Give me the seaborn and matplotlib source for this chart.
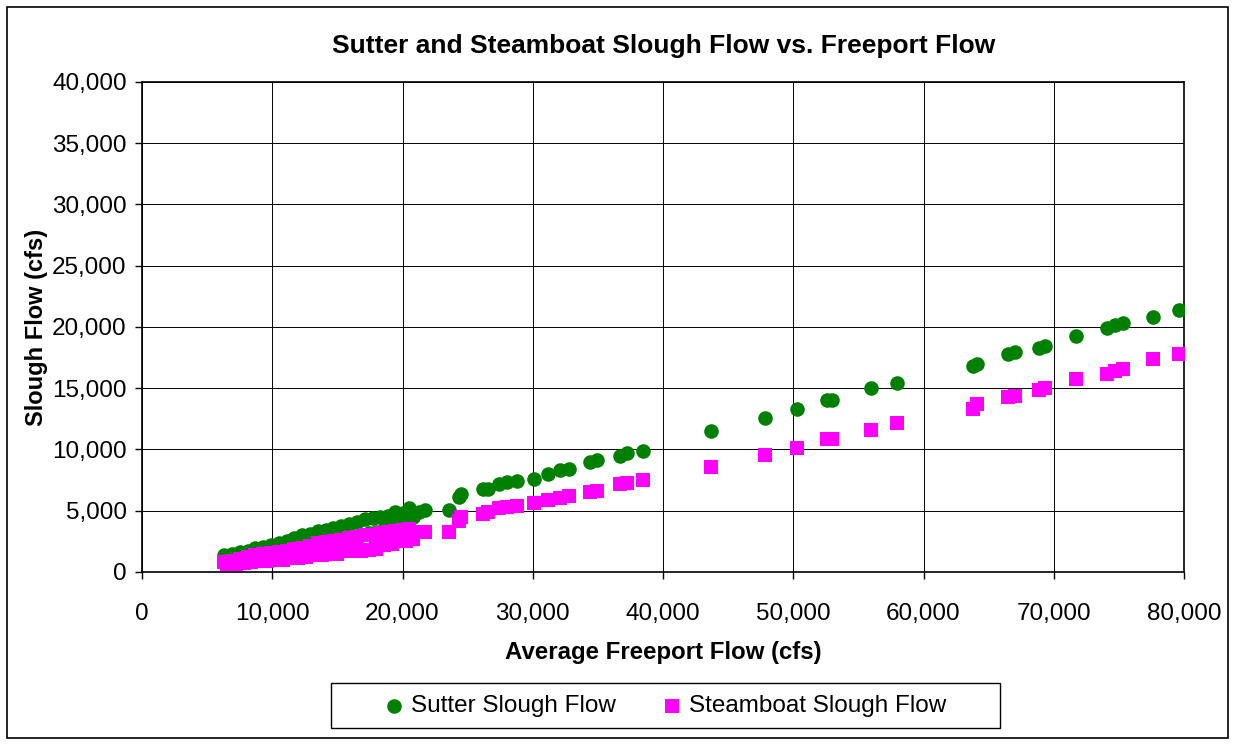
import numpy as np
import pandas as pd
import seaborn as sns
import matplotlib.pyplot as plt
from matplotlib.ticker import FuncFormatter, MultipleLocator

# Average Freeport flow (cfs)
freeport = [6300, 6500, 6900, 7200, 7500, 7800, 8100, 8400, 8700, 9000,
            9300, 9600, 9900, 10200, 10500, 10800, 11100, 11400, 11700, 12000,
            12300, 12600, 12900, 13200, 13500, 13800, 14100, 14400, 14700, 15000,
            15300, 15600, 15900, 16200, 16500, 16800, 17100, 17400, 17700, 18000,
            18300, 18600, 18900, 19200, 19400, 19700, 20000, 20300, 20500, 20800,
            21300, 21700, 23600, 24300, 24500, 26200, 26600, 27400, 28000, 28800,
            30100, 31200, 32100, 32800, 34400, 34900, 36700, 37200, 38500, 43700,
            47800, 50300, 52600, 53000, 56000, 58000, 63800, 64100, 66500, 67000,
            68900, 69300, 71700, 74100, 74700, 75300, 77600, 79600]

# Sutter Slough flow (cfs)
sutter = [1350, 1100, 1450, 1150, 1650, 1250, 1750, 1400, 1950, 1500,
          2050, 1600, 2200, 1700, 2350, 1750, 2550, 1900, 2750, 2000,
          3000, 2100, 3100, 2250, 3350, 2400, 3450, 2500, 3600, 2600,
          3750, 2750, 3900, 2900, 4050, 3000, 4300, 3200, 4400, 3300,
          4500, 3500, 4600, 3700, 4900, 3900, 4800, 4100, 5200, 4500,
          4900, 5050, 5100, 6100, 6400, 6800, 6750, 7200, 7350, 7450,
          7600, 8000, 8300, 8400, 8950, 9150, 9500, 9700, 9900, 11500,
          12600, 13300, 14050, 14050, 15000, 15450, 16800, 17000, 17800, 17950,
          18300, 18450, 19250, 19950, 20150, 20350, 20850, 21400]

# Steamboat Slough flow (cfs)
steamboat = [850, 680, 920, 680, 1050, 700, 1250, 850, 1350, 880,
             1450, 900, 1550, 950, 1650, 950, 1750, 1150, 1850, 1180,
             1950, 1250, 2100, 1400, 2350, 1420, 2450, 1450, 2550, 1500,
             2650, 1700, 2750, 1720, 2850, 1750, 3000, 1800, 3050, 1850,
             3200, 2200, 3300, 2250, 3350, 2500, 3400, 2500, 3500, 2700,
             3250, 3300, 3300, 4200, 4500, 4750, 4900, 5250, 5300, 5400,
             5650, 5850, 6050, 6200, 6550, 6650, 7150, 7300, 7500, 8600,
             9550, 10100, 10850, 10850, 11600, 12150, 13300, 13700, 14250, 14350,
             14850, 15000, 15750, 16200, 16400, 16600, 17400, 17800]

df = pd.DataFrame({'freeport': freeport, 'sutter': sutter, 'steamboat': steamboat})

sns.set_style('white')
plt.rcParams['font.family'] = ['Liberation Sans', 'DejaVu Sans']
plt.rcParams['text.color'] = 'black'
plt.rcParams['axes.labelcolor'] = 'black'
plt.rcParams['xtick.color'] = 'black'
plt.rcParams['ytick.color'] = 'black'

fig = plt.figure(figsize=(12.35, 7.45), dpi=100)
ax = fig.add_axes([142 / 1235, 1 - 572 / 745, (1184 - 142) / 1235, (572 - 82) / 745])

sns.scatterplot(data=df, x='freeport', y='sutter', ax=ax, color='#008000', marker='o',
                s=110, linewidth=0, label='Sutter Slough Flow', zorder=3)
sns.scatterplot(data=df, x='freeport', y='steamboat', ax=ax, color='#FF00FF', marker='s',
                s=105, linewidth=0, label='Steamboat Slough Flow', zorder=4)

ax.set_xlim(0, 80000)
ax.set_ylim(0, 40000)
ax.xaxis.set_major_locator(MultipleLocator(10000))
ax.yaxis.set_major_locator(MultipleLocator(5000))
fmt = FuncFormatter(lambda v, p: '0' if v == 0 else f'{int(v):,}')
ax.xaxis.set_major_formatter(fmt)
ax.yaxis.set_major_formatter(fmt)
ax.grid(True, color='black', linewidth=0.7)
ax.set_axisbelow(True)
for sp in ax.spines.values():
    sp.set_color('black')
    sp.set_linewidth(1.2)
ax.tick_params(axis='both', which='major', labelsize=17.5, length=5, width=1,
               color='black', direction='out', bottom=True, left=True)
ax.tick_params(axis='x', pad=17)
ax.tick_params(axis='y', pad=6)

ax.set_xlabel('Average Freeport Flow (cfs)', fontsize=17.3, fontweight='bold', labelpad=12)
ax.set_ylabel('Slough Flow (cfs)', fontsize=17, fontweight='bold', labelpad=3)
fig.text(664 / 1235, 1 - 46 / 745, 'Sutter and Steamboat Slough Flow vs. Freeport Flow',
         ha='center', va='center', fontsize=19, fontweight='bold')

ax.get_legend().remove()
handles, labels = ax.get_legend_handles_labels()
leg = fig.legend(handles, labels, loc='center', bbox_to_anchor=(664 / 1235, 1 - 706 / 745),
                 ncol=2, fontsize=17.5, frameon=False, handlelength=1.0,
                 columnspacing=1.8, handletextpad=0.2, markerscale=1.0)

# legend box and outer chart border
fig.patches.append(plt.Rectangle((331 / 1235, 1 - 728 / 745), 669 / 1235, 45 / 745,
                                 transform=fig.transFigure, fill=False,
                                 edgecolor='black', linewidth=1.0))
fig.patches.append(plt.Rectangle((7 / 1235, 7 / 745), 1 - 14 / 1235, 1 - 14 / 745,
                                 transform=fig.transFigure, fill=False,
                                 edgecolor='black', linewidth=1.2))

fig.savefig('out.png', dpi=100, facecolor='white')
